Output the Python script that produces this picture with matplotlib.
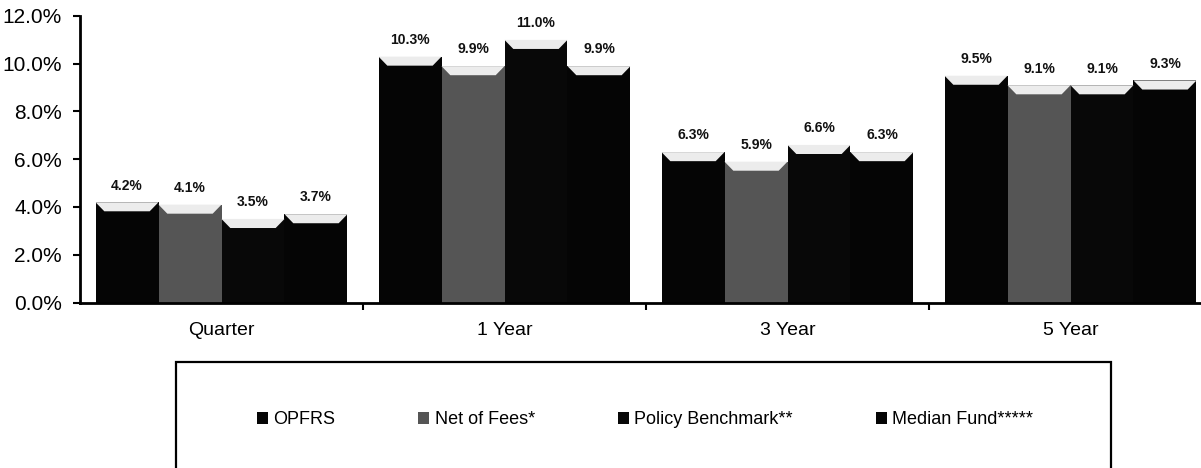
import matplotlib
matplotlib.use("Agg")
import matplotlib.pyplot as plt
from matplotlib.patches import Rectangle, Polygon, Patch
from matplotlib.ticker import FuncFormatter
import numpy as np

plt.rcParams['font.family'] = ['Liberation Sans', 'DejaVu Sans']

categories = ["Quarter", "1 Year", "3 Year", "5 Year"]
series_names = ["OPFRS", "Net of Fees*", "Policy Benchmark**", "Median Fund*****"]
opfrs = [4.2, 10.3, 6.3, 9.5]
net_of_fees = [4.1, 9.9, 5.9, 9.1]
policy_benchmark = [3.5, 11.0, 6.6, 9.1]
median_fund = [3.7, 9.9, 6.3, 9.3]
series_values = [opfrs, net_of_fees, policy_benchmark, median_fund]
colors = ["#050505", "#555555", "#080808", "#050505"]

fig = plt.figure(figsize=(12.01, 4.68), dpi=100)
ax = fig.add_axes([80/1201, (468-302.5)/468, 4*283/1201, (302.5-16)/468])

x = np.arange(len(categories))
w = 0.2226
offsets = np.array([-1.5, -0.5, 0.5, 1.5]) * w

for vals, off, col, name in zip(series_values, offsets, colors, series_names):
    bars = ax.bar(x + off, vals, width=w, color=col, edgecolor='none', label=name, zorder=2)
    for b, v in zip(bars, vals):
        x0 = b.get_x()
        bw = b.get_width()
        top = b.get_height()
        bev = 0.38
        inset = bw * 0.14
        poly = Polygon([[x0, top], [x0 + bw, top], [x0 + bw - inset, top - bev], [x0 + inset, top - bev]],
                       closed=True, facecolor='#ececec', edgecolor='none', zorder=3)
        ax.add_patch(poly)
        ax.annotate(f"{v:.1f}%", xy=(b.get_x() + bw/2, top), xytext=(0, 12),
                    textcoords='offset points', ha='center', va='center',
                    fontsize=10, fontweight='bold', color='#111111')

ax.set_xlim(-0.5, 3.5)
ax.set_ylim(0, 12)
ax.set_yticks(np.arange(0, 12.1, 2))
ax.yaxis.set_major_formatter(FuncFormatter(lambda v, p: f"{v:.1f}%"))
ax.tick_params(axis='y', labelsize=15, length=5, width=1.5, pad=8, direction='out')

ax.set_xticks(x)
ax.set_xticklabels(categories)
ax.tick_params(axis='x', which='major', length=0, labelsize=14, pad=14)
ax.set_xticks([0.5, 1.5, 2.5], minor=True)
ax.tick_params(axis='x', which='minor', length=5, width=1.5, direction='out')

for s in ['top', 'right']:
    ax.spines[s].set_visible(False)
for s in ['left', 'bottom']:
    ax.spines[s].set_linewidth(2)
    ax.spines[s].set_color('black')

# legend box
rect = Rectangle((176/1201, -0.02), (1111-176)/1201, (1-362/468) + 0.02,
                 transform=fig.transFigure, fill=False, edgecolor='black', linewidth=1.6)
fig.add_artist(rect)

handles = [Patch(facecolor=c, edgecolor='none') for c in colors]
fig.legend(handles, series_names, loc='center', bbox_to_anchor=(645/1201, 1-420/468),
           ncol=4, frameon=False, fontsize=13, handlelength=0.6, handleheight=0.6,
           handletextpad=0.3, columnspacing=4.6)

fig.savefig("out.png", dpi=100)
